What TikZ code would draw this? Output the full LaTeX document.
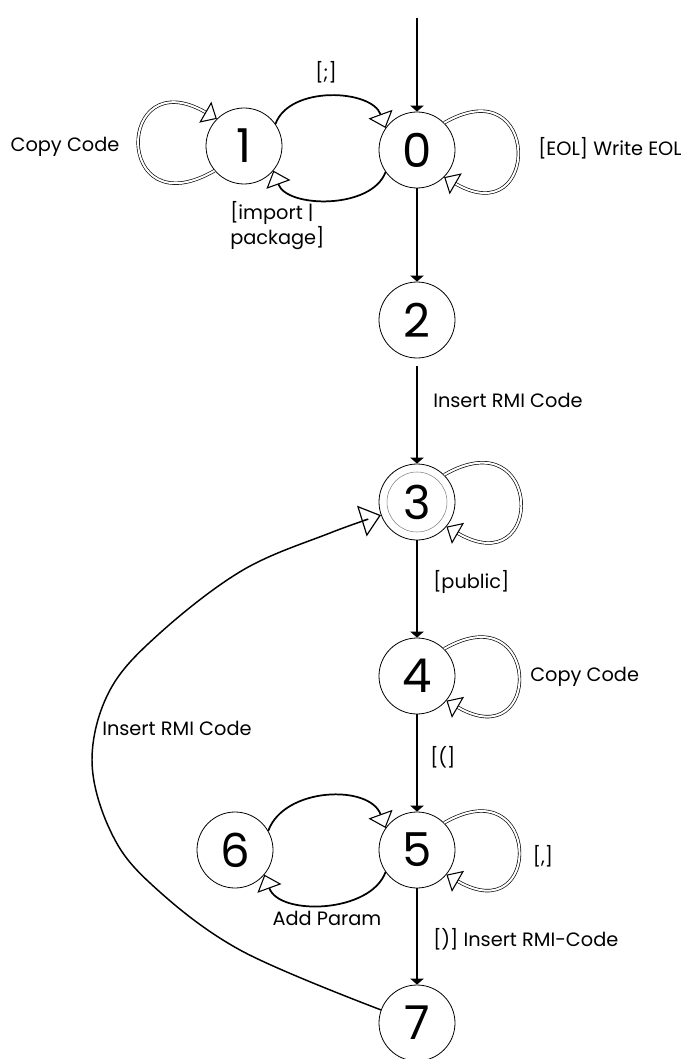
\documentclass[tikz,border=0pt]{standalone}
\usepackage{fontspec}
\setmainfont{Poppins}
\usetikzlibrary{arrows.meta}

\begin{document}
\begin{tikzpicture}[x=0.75pt,y=0.75pt,
  state/.style={circle,draw,line width=0.6pt,minimum size=57pt,inner sep=0pt,font=\fontsize{35}{35}\selectfont},
  go/.style={line width=0.9pt,-{Triangle[length=4.5pt,width=10pt]}},
  swing/.style={line width=1.3pt,-{Triangle[open,length=11pt,width=19pt,line width=0.8pt]}},
  self/.style={double,double distance=1.5pt,line width=0.5pt,-{Triangle[open,length=10pt,width=18pt,line width=0.8pt]}},
  lbl/.style={font=\fontsize{14.5}{18.75}\selectfont,inner sep=0pt}]
\useasboundingbox (0,0) rectangle (681,-1059);

% states
\node[state] (s0) at (417,-150) {0};
\node[state] (s1) at (244,-146) {1};
\node[state] (s2) at (417,-320) {2};
\node[state] (s3) at (417,-502) {3};
\node[state] (s4) at (417,-676) {4};
\node[state] (s5) at (417,-850) {5};
\node[state] (s6) at (235,-850) {6};
\node[state] (s7) at (417,-1023) {7};
\draw[gray,line width=0.4pt] (s3) circle (30);

% main line
\coordinate (init) at (417,-18);
\draw[go] (init) -- (s0);
\draw[go] (s0) -- (s2);
\draw[go,shorten <=6pt] (s2) -- (s3);
\draw[go] (s3) -- (s4);
\draw[go] (s4) -- (s5);
\draw[go] (s5) -- (s7);

% self loops
\draw[self] (s0.45) to[out=30,in=-30,distance=84pt] (s0.-45);
\draw[self] (s1.-140) to[out=210,in=150,distance=88pt] (s1.135);
\draw[self] (s3.45) to[out=30,in=-30,distance=86pt] (s3.-40);
\draw[self] (s4.45) to[out=30,in=-30,distance=84pt] (s4.-40);
\draw[self] (s5.45) to[out=30,in=-30,distance=84pt] (s5.-40);

% back and forth
\draw[swing] (s1.35) to[out=70,in=110,distance=31pt] (s0.145);
\draw[swing] (s0.215) to[out=-110,in=-70,distance=30pt] (s1.-40);
\draw[swing] (s6.30) to[out=70,in=110,distance=35pt] (s5.145);
\draw[swing] (s5.215) to[out=-110,in=-70,distance=33pt] (s6.-40);

% back to 3
\draw[line width=1.1pt,-{Triangle[open,length=15pt,width=24pt,line width=0.9pt]}]
  plot[smooth,tension=0.6] coordinates {(s7.160) (240,-950) (150,-883) (110,-830) (92,-760)
  (110,-690) (160,-633) (243,-570) (330,-533) (s3.200)};

% labels
\node[lbl] (cc1) at (65,-147) {Copy Code};
\node[lbl] (semi) at (326,-72) {[;]};
\node[lbl,anchor=west] (eol) at (538,-148) {[EOL] Write EOL};
\node[lbl,anchor=west,align=left] (imp) at (230,-226) {[import |\\package]};
\node[lbl,anchor=west] (ins1) at (433,-400) {Insert RMI Code};
\node[lbl,anchor=west] (pub) at (433,-582) {[public]};
\node[lbl,anchor=west] (cc4) at (530,-677) {Copy Code};
\node[lbl,anchor=west] (lpar) at (430,-757) {[(]};
\node[lbl] (comma) at (543,-856) {[,]};
\node[lbl] (add) at (327,-918) {Add Param};
\node[lbl,anchor=west] (rpar) at (433,-939) {[)] Insert RMI-Code};
\node[lbl,anchor=west] (ins2) at (102,-728) {Insert RMI Code};
\end{tikzpicture}
\end{document}
